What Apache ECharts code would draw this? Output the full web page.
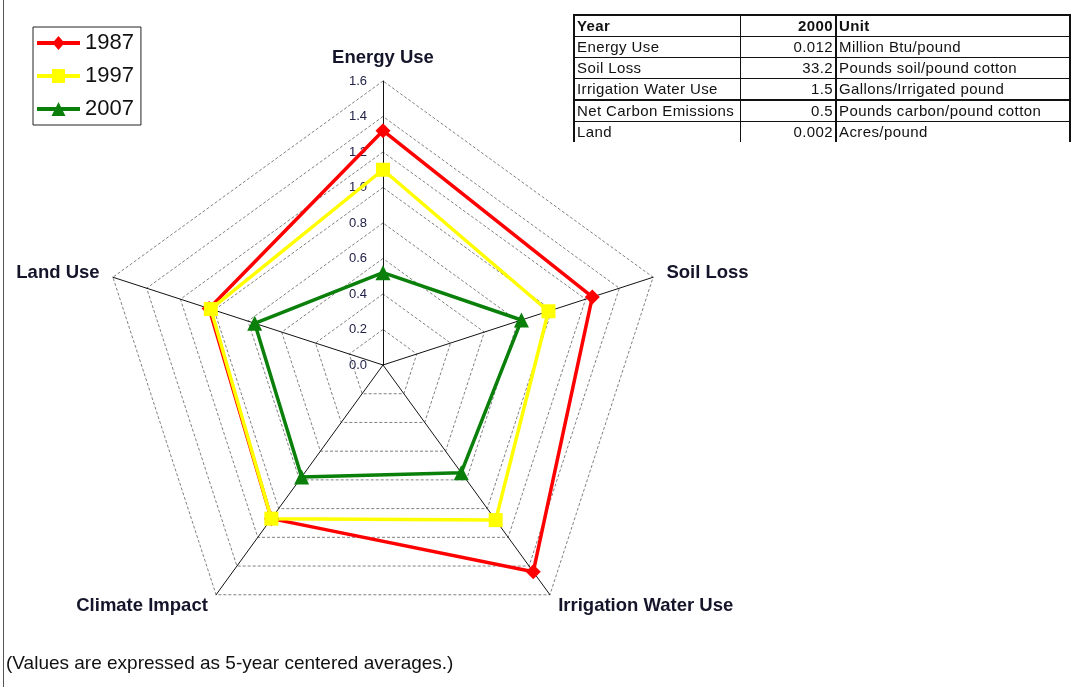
<!DOCTYPE html>
<html>
<head>
<meta charset="utf-8">
<script src="https://cdn.jsdelivr.net/npm/echarts@6/dist/echarts.min.js"></script>
<style>
  html, body { margin: 0; padding: 0; background: #fff; }
  #wrap { position: relative; width: 1075px; height: 687px; overflow: hidden; }
  #chart { position: absolute; left: 0; top: 0; width: 1075px; height: 687px; }
  #frame { position: absolute; left: 3px; top: 0; width: 0; height: 687px; border-left: 1.5px solid #555; }
  #tbl { position: absolute; left: 573px; top: 14px; border-collapse: collapse;
         font-family: 'Liberation Sans', Arial, sans-serif; font-size: 15px; letter-spacing: 0.4px; color: #111; }
  #tbl td { height: 20px; padding: 0 2px; line-height: 20px; white-space: nowrap;
            border-top: 1px solid #111; border-left: 1px solid #111; }
  #tbl tr:first-child td { border-top: 2px solid #111; font-weight: bold; }
  #tbl td:first-child { border-left: 2px solid #111; width: 161px; }
  #tbl td:nth-child(2) { width: 90px; text-align: right; }
  #tbl td:nth-child(3) { border-left: 2px solid #111; border-right: 2px solid #111; width: 228px; }
  #tbl tr.thick td { border-top: 2px solid #111; }
</style>
</head>
<body>
<div id="wrap">
  <div id="chart"></div>
  <div id="frame"></div>
  <table id="tbl"></table>
</div>
<script>
// Indicators in drawing order (counter-clockwise from the top)
const categories = ['Energy Use', 'Land Use', 'Climate Impact', 'Irrigation Water Use', 'Soil Loss'];
const years = ['1987', '1997', '2007'];
const values1987 = [1.32, 1.03, 1.07, 1.44, 1.24];
const values1997 = [1.10, 1.02, 1.07, 1.08, 0.98];
const values2007 = [0.52, 0.76, 0.78, 0.75, 0.82];
const axisMax = 1.6;

// Reference table
const tableHeader = ['Year', '2000', 'Unit'];
const tableNames = ['Energy Use', 'Soil Loss', 'Irrigation Water Use', 'Net Carbon Emissions', 'Land'];
const tableValues = ['0.012', '33.2', '1.5', '0.5', '0.002'];
const tableUnits = ['Million Btu/pound', 'Pounds soil/pound cotton', 'Gallons/Irrigated pound', 'Pounds carbon/pound cotton', 'Acres/pound'];
const footnote = '(Values are expressed as 5-year centered averages.)';

// build table
const tbl = document.getElementById('tbl');
function addRow(cells, cls) {
  const tr = document.createElement('tr');
  if (cls) tr.className = cls;
  cells.forEach(c => { const td = document.createElement('td'); td.textContent = c; tr.appendChild(td); });
  tbl.appendChild(tr);
}
addRow(tableHeader);
tableNames.forEach((n, i) => addRow([n, tableValues[i], tableUnits[i]], i === 3 ? 'thick' : ''));

// legend icons: a line with the series marker in the middle
const lineBar = 'M0,5 L43,5 L43,9 L0,9 Z ';
const iconDiamond = 'path://' + lineBar + 'M15.5,7 L21.5,0 L27.5,7 L21.5,14 Z';
const iconRect = 'path://' + lineBar + 'M15,0 L28,0 L28,14 L15,14 Z';
const iconTri = 'path://' + lineBar + 'M14.5,14 L21.5,0 L28.5,14 Z';

const chart = echarts.init(document.getElementById('chart'));
const seriesDefs = [
  { name: years[0], data: values1987, color: '#ff0000', symbol: 'diamond', size: 15, icon: iconDiamond },
  { name: years[1], data: values1997, color: '#ffff00', symbol: 'rect', size: 14, icon: iconRect },
  { name: years[2], data: values2007, color: '#0a800a', symbol: 'triangle', size: 15, icon: iconTri }
];

chart.setOption({
  animation: false,
  title: {
    text: footnote,
    left: 6, top: 654, padding: 0,
    textStyle: { fontFamily: 'Liberation Sans, Arial', fontSize: 19, fontWeight: 'normal', color: '#111' }
  },
  legend: {
    orient: 'vertical',
    left: 33, top: 27,
    padding: [5, 7, 5, 4],
    itemGap: 11,
    itemWidth: 43, itemHeight: 14,
    borderColor: '#222', borderWidth: 1,
    textStyle: { fontFamily: 'Liberation Sans, Arial', fontSize: 22, color: '#111' },
    data: seriesDefs.map(s => ({ name: s.name, icon: s.icon, itemStyle: { color: s.color } }))
  },
  radar: {
    center: [383, 365],
    radius: 284,
    startAngle: 90,
    splitNumber: 8,
    shape: 'polygon',
    nameGap: 14,
    axisName: {
      fontFamily: 'Liberation Sans, Arial', fontSize: 18.5, fontWeight: 'bold', color: '#14142a'
    },
    axisLine: { lineStyle: { color: '#111', width: 1 } },
    splitLine: { lineStyle: { color: '#808080', width: 1, type: [3, 2] } },
    splitArea: { show: false },
    axisTick: { show: false },
    axisLabel: {
      show: false, margin: 16,
      fontFamily: 'Liberation Sans, Arial', fontSize: 13, color: '#22224a',
      formatter: v => Number(v).toFixed(1)
    },
    indicator: categories.map((c, i) => {
      const o = { name: c, min: 0, max: axisMax };
      if (i === 0) o.axisLabel = { show: true };
      return o;
    })
  },
  series: seriesDefs.map(s => ({
    type: 'radar',
    name: s.name,
    symbol: s.symbol,
    symbolSize: s.size,
    lineStyle: { color: s.color, width: 3.5 },
    itemStyle: { color: s.color },
    data: [{ name: s.name, value: s.data }]
  }))
});
</script>
</body>
</html>
